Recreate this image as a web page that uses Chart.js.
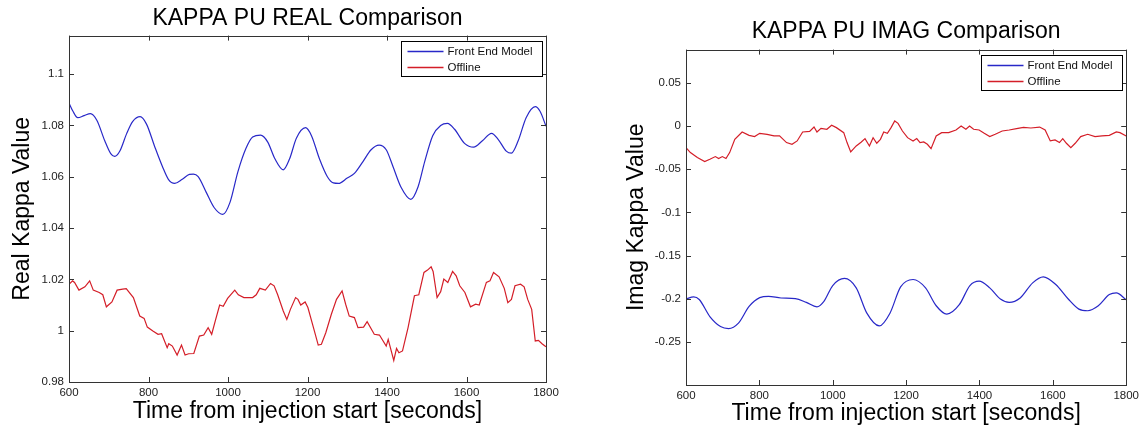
<!DOCTYPE html>
<html>
<head>
<meta charset="utf-8">
<script src="https://cdn.jsdelivr.net/npm/chart.js@4.4.1/dist/chart.umd.min.js"></script>
<style>
  body { margin: 0; background: #fff; }
  canvas { position: absolute; top: 0; }
  #left { left: 0; }
  #right { left: 570px; }
</style>
</head>
<body>
<canvas id="left" width="570" height="427"></canvas>
<canvas id="right" width="573" height="427"></canvas>
<script>
// tick labels
var xTicks = [600, 800, 1000, 1200, 1400, 1600, 1800];
var realTicks = [0.98, 1, 1.02, 1.04, 1.06, 1.08, 1.1];
var imagTicks = [-0.25, -0.2, -0.15, -0.1, -0.05, 0, 0.05];
var seriesNames = ["Front End Model", "Offline"];

// REAL - front end model
var realModelT = [600, 610, 622, 638, 654, 670, 690, 705, 715, 728, 745, 760, 779, 795, 815, 835, 850, 866, 885, 903, 913, 925, 945, 965, 987, 1005, 1025, 1045, 1062, 1082, 1100, 1118, 1139, 1155, 1172, 1195, 1210, 1230, 1250, 1265, 1278, 1300, 1318, 1340, 1360, 1380, 1398, 1415, 1435, 1460, 1478, 1495, 1515, 1535, 1552, 1570, 1595, 1618, 1640, 1663, 1680, 1700, 1713, 1730, 1750, 1773, 1785, 1800];
var realModelV = [1.0887, 1.0855, 1.0830, 1.0838, 1.0846, 1.0820, 1.0740, 1.0690, 1.0679, 1.0700, 1.0768, 1.0815, 1.0834, 1.0805, 1.0720, 1.0640, 1.0590, 1.0574, 1.0590, 1.0609, 1.0610, 1.0600, 1.0540, 1.0480, 1.0453, 1.0500, 1.0620, 1.0710, 1.0755, 1.0762, 1.0735, 1.0670, 1.0627, 1.0670, 1.0750, 1.0791, 1.0760, 1.0670, 1.0600, 1.0576, 1.0574, 1.0595, 1.0613, 1.0660, 1.0705, 1.0723, 1.0705, 1.0640, 1.0560, 1.0512, 1.0560, 1.0660, 1.0760, 1.0800, 1.0808, 1.0785, 1.0730, 1.0715, 1.0740, 1.0769, 1.0745, 1.0700, 1.0692, 1.0740, 1.0830, 1.0873, 1.0855, 1.0797];

// REAL - offline
var realOffT = [600, 609, 614, 625, 640, 652, 661, 676, 685, 694, 708, 721, 735, 744, 762, 778, 789, 797, 811, 824, 833, 847, 851, 860, 872, 883, 892, 901, 914, 928, 939, 950, 959, 968, 979, 988, 999, 1017, 1026, 1040, 1062, 1071, 1080, 1094, 1107, 1116, 1125, 1139, 1148, 1157, 1170, 1176, 1183, 1194, 1201, 1215, 1227, 1235, 1246, 1260, 1273, 1287, 1296, 1305, 1318, 1327, 1341, 1350, 1368, 1381, 1398, 1403, 1417, 1424, 1430, 1439, 1453, 1469, 1480, 1493, 1502, 1511, 1516, 1526, 1535, 1543, 1553, 1565, 1574, 1583, 1596, 1610, 1623, 1632, 1650, 1659, 1668, 1682, 1695, 1704, 1713, 1722, 1736, 1745, 1754, 1764, 1773, 1781, 1790, 1800];
var realOffV = [1.0181, 1.0194, 1.0188, 1.0158, 1.0171, 1.0194, 1.0158, 1.0149, 1.0140, 1.0093, 1.0112, 1.0158, 1.0162, 1.0164, 1.0129, 1.0057, 1.0048, 1.0014, 0.9999, 0.9986, 0.9988, 0.9934, 0.9949, 0.9940, 0.9905, 0.9944, 0.9905, 0.9910, 0.9911, 0.9979, 0.9983, 1.0012, 0.9986, 1.0038, 1.0100, 1.0095, 1.0126, 1.0158, 1.0140, 1.0129, 1.0129, 1.0140, 1.0165, 1.0158, 1.0184, 1.0175, 1.0140, 1.0077, 1.0044, 1.0083, 1.0129, 1.0122, 1.0100, 1.0112, 1.0090, 1.0012, 0.9944, 0.9947, 0.9992, 1.0064, 1.0122, 1.0155, 1.0103, 1.0057, 1.0051, 1.0012, 1.0014, 1.0035, 0.9986, 0.9983, 0.9940, 0.9966, 0.9884, 0.9931, 0.9914, 0.9921, 1.0012, 1.0136, 1.0140, 1.0227, 1.0236, 1.0249, 1.0231, 1.0129, 1.0152, 1.0201, 1.0188, 1.0231, 1.0214, 1.0175, 1.0149, 1.0093, 1.0103, 1.0100, 1.0188, 1.0194, 1.0227, 1.0210, 1.0165, 1.0109, 1.0122, 1.0175, 1.0181, 1.0171, 1.0122, 1.0083, 0.9960, 0.9962, 0.9949, 0.9937];

// IMAG - front end model
var imagModelT = [600, 621, 636, 665, 694, 716, 743, 772, 801, 825, 859, 898, 928, 957, 976, 1000, 1032, 1064, 1093, 1127, 1156, 1185, 1219, 1253, 1282, 1311, 1345, 1374, 1399, 1428, 1457, 1481, 1511, 1545, 1574, 1608, 1642, 1671, 1695, 1724, 1754, 1773, 1800];
var imagModelV = [-0.2004, -0.1980, -0.2010, -0.2207, -0.2323, -0.2347, -0.2284, -0.2090, -0.1988, -0.1973, -0.1992, -0.2000, -0.2043, -0.2094, -0.2031, -0.1848, -0.1766, -0.1875, -0.2168, -0.2316, -0.2168, -0.1864, -0.1778, -0.1875, -0.2082, -0.2179, -0.2070, -0.1848, -0.1797, -0.1875, -0.2004, -0.2043, -0.1992, -0.1817, -0.1747, -0.1836, -0.2004, -0.2121, -0.2140, -0.2082, -0.1953, -0.1934, -0.2012];

// IMAG - offline
var imagOffT = [600, 612, 631, 651, 665, 680, 689, 699, 709, 719, 733, 753, 772, 787, 801, 821, 840, 855, 874, 889, 903, 918, 937, 949, 957, 968, 984, 997, 1010, 1030, 1039, 1049, 1064, 1078, 1088, 1100, 1110, 1120, 1130, 1139, 1149, 1159, 1169, 1178, 1190, 1204, 1219, 1229, 1238, 1248, 1258, 1268, 1282, 1297, 1316, 1336, 1350, 1363, 1373, 1384, 1399, 1413, 1428, 1443, 1462, 1481, 1501, 1520, 1540, 1564, 1579, 1593, 1606, 1618, 1627, 1637, 1649, 1661, 1676, 1695, 1715, 1734, 1754, 1773, 1783, 1800];
var imagOffV = [-0.0250, -0.0308, -0.0365, -0.0412, -0.0385, -0.0354, -0.0377, -0.0354, -0.0377, -0.0308, -0.0154, -0.0069, -0.0108, -0.0123, -0.0085, -0.0096, -0.0115, -0.0115, -0.0192, -0.0212, -0.0173, -0.0069, -0.0062, -0.0012, -0.0069, -0.0027, -0.0038, 0.0008, -0.0019, -0.0077, -0.0192, -0.0300, -0.0231, -0.0185, -0.0146, -0.0231, -0.0135, -0.0200, -0.0154, -0.0069, -0.0085, -0.0019, 0.0058, 0.0031, -0.0058, -0.0135, -0.0173, -0.0146, -0.0192, -0.0185, -0.0212, -0.0262, -0.0115, -0.0077, -0.0077, -0.0046, 0.0000, -0.0038, 0.0000, -0.0038, -0.0046, -0.0085, -0.0123, -0.0096, -0.0058, -0.0046, -0.0031, -0.0015, -0.0023, -0.0012, -0.0046, -0.0173, -0.0162, -0.0192, -0.0146, -0.0200, -0.0250, -0.0200, -0.0123, -0.0096, -0.0123, -0.0115, -0.0108, -0.0069, -0.0077, -0.0115];

var BLUE = "rgb(40,40,200)";
var RED = "rgb(212,30,40)";
var seriesColors = [BLUE, RED];
var FONT = '"Liberation Sans", Arial, Helvetica, sans-serif';

function pts(t, v) {
  return t.map(function (x, i) { return {x: x, y: v[i]}; });
}

function fmt(v) {
  return String(Math.round(v * 10000) / 10000);
}

// matlab-style box, inward ticks on all four sides, boxed legend
var matlabAxes = {
  id: "matlabAxes",
  afterDatasetsDraw: function (chart) {
    var ctx = chart.ctx, a = chart.chartArea;
    var xs = chart.scales.x, ys = chart.scales.y;
    ctx.save();
    ctx.strokeStyle = "#333";
    ctx.lineWidth = 1;
    ctx.beginPath();
    xs.ticks.forEach(function (t) {
      var px = Math.round(xs.getPixelForValue(t.value)) + 0.5;
      ctx.moveTo(px, a.bottom); ctx.lineTo(px, a.bottom - 5);
      ctx.moveTo(px, a.top); ctx.lineTo(px, a.top + 5);
    });
    ys.ticks.forEach(function (t) {
      var py = Math.round(ys.getPixelForValue(t.value)) + 0.5;
      ctx.moveTo(a.left, py); ctx.lineTo(a.left + 5, py);
      ctx.moveTo(a.right, py); ctx.lineTo(a.right - 5, py);
    });
    ctx.stroke();
    ctx.strokeRect(Math.round(a.left) + 0.5, Math.round(a.top) + 0.5,
      Math.round(a.right - a.left), Math.round(a.bottom - a.top));

    // legend
    var ds = chart.data.datasets;
    ctx.font = "11.5px " + FONT;
    var tw = 0;
    ds.forEach(function (d) { tw = Math.max(tw, ctx.measureText(d.label).width); });
    var w = Math.round(46 + tw + 10), h = 35;
    var lx = Math.round(a.right - 4 - w) + 0.5, ly = Math.round(a.top + 5) + 0.5;
    ctx.fillStyle = "#fff";
    ctx.fillRect(lx, ly, w, h);
    ctx.strokeStyle = "#000";
    ctx.strokeRect(lx, ly, w, h);
    ds.forEach(function (d, i) {
      var yy = ly + 10 + i * 16;
      ctx.beginPath();
      ctx.strokeStyle = seriesColors[i];
      ctx.lineWidth = 1.3;
      ctx.moveTo(lx + 6, yy);
      ctx.lineTo(lx + 42, yy);
      ctx.stroke();
      ctx.fillStyle = "#111";
      ctx.textBaseline = "middle";
      ctx.fillText(d.label, lx + 46, yy);
    });
    ctx.restore();
  }
};

function makeChart(id, cfg) {
  return new Chart(document.getElementById(id), {
    type: "line",
    data: {
      datasets: [{
        label: seriesNames[0],
        data: pts(cfg.modelT, cfg.modelV),
        borderColor: seriesColors[0],
        borderWidth: 1.2,
        pointRadius: 0,
        cubicInterpolationMode: "monotone"
      }, {
        label: seriesNames[1],
        data: pts(cfg.offT, cfg.offV),
        borderColor: seriesColors[1],
        borderWidth: 1.2,
        pointRadius: 0,
        tension: 0
      }]
    },
    options: {
      responsive: false,
      animation: false,
      devicePixelRatio: 1,
      layout: {padding: {left: 0, right: cfg.padRight, top: 0, bottom: 0}},
      plugins: {
        legend: {display: false},
        tooltip: {enabled: false},
        title: {
          display: true,
          fullSize: false,
          text: cfg.title,
          color: "#000",
          font: {family: FONT, size: 23, weight: "normal"},
          padding: {top: cfg.titleTop, bottom: cfg.titleBottom}
        }
      },
      scales: {
        x: {
          type: "linear",
          min: 600,
          max: 1800,
          grid: {display: false, drawTicks: false},
          border: {display: false},
          afterBuildTicks: function (s) { s.ticks = xTicks.map(function (v) { return {value: v}; }); },
          afterFit: function (s) { s.height = cfg.xHeight; },
          ticks: {
            padding: 4,
            color: "#222",
            maxRotation: 0,
            autoSkip: false,
            font: {family: FONT, size: 11.5},
            callback: fmt
          },
          title: {
            display: true,
            text: "Time from injection start [seconds]",
            color: "#000",
            font: {family: FONT, size: 23},
            padding: {top: 0, bottom: cfg.xTitleBottom}
          }
        },
        y: {
          type: "linear",
          min: cfg.yMin,
          max: cfg.yMax,
          grid: {display: false, drawTicks: false},
          border: {display: false},
          afterBuildTicks: function (s) { s.ticks = cfg.yTicks.map(function (v) { return {value: v}; }); },
          afterFit: function (s) { s.width = cfg.yWidth; },
          ticks: {
            padding: 5,
            color: "#222",
            autoSkip: false,
            font: {family: FONT, size: 11.5},
            callback: fmt
          },
          title: {
            display: true,
            text: cfg.yTitle,
            color: "#000",
            font: {family: FONT, size: 23},
            padding: {top: cfg.yTitleTop, bottom: 0}
          }
        }
      }
    },
    plugins: [matlabAxes]
  });
}

makeChart("left", {
  title: "KAPPA PU REAL Comparison",
  yTitle: "Real Kappa Value",
  modelT: realModelT, modelV: realModelV,
  offT: realOffT, offV: realOffV,
  yTicks: realTicks, yMin: 0.98, yMax: 1.115,
  padRight: 24, yWidth: 69, xHeight: 45,
  titleTop: 5, titleBottom: 3,
  yTitleTop: 9, xTitleBottom: 2
});

makeChart("right", {
  title: "KAPPA PU IMAG Comparison",
  yTitle: "Imag Kappa Value",
  modelT: imagModelT, modelV: imagModelV,
  offT: imagOffT, offV: imagOffV,
  yTicks: imagTicks, yMin: -0.3, yMax: 0.0885,
  padRight: 14, yWidth: 116, xHeight: 42,
  titleTop: 18, titleBottom: 4,
  yTitleTop: 53, xTitleBottom: 0
});
</script>
</body>
</html>
